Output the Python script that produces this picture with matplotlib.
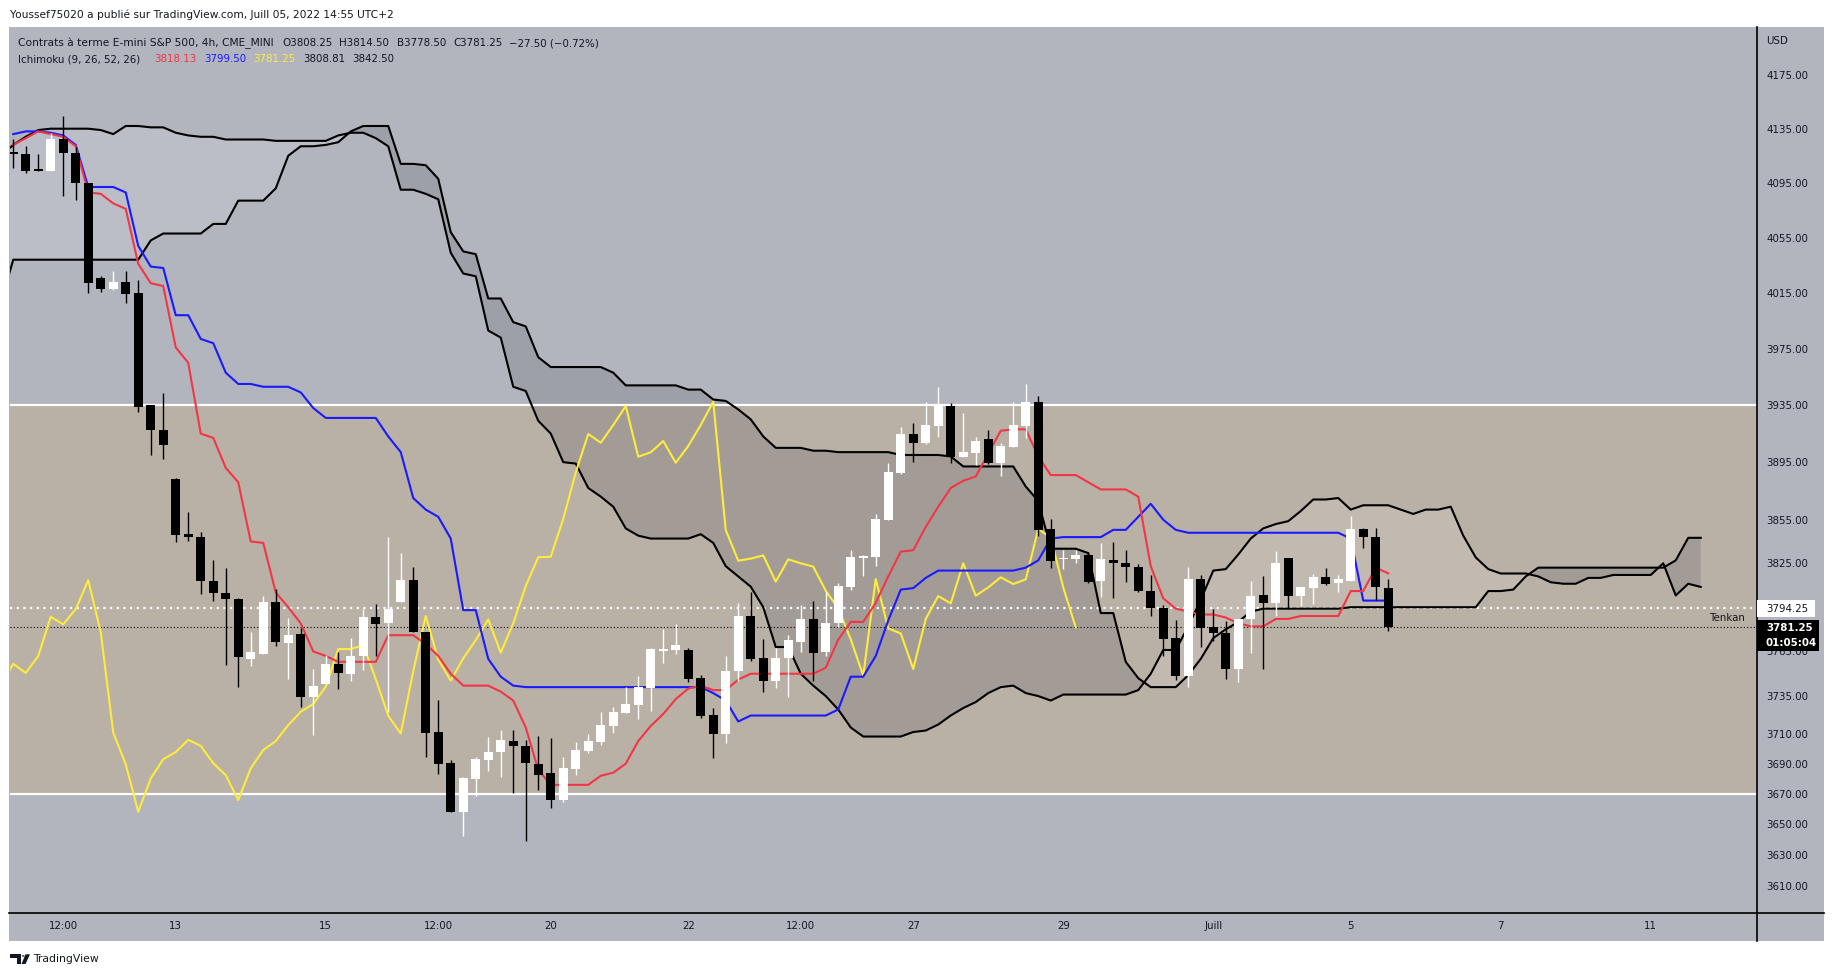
import numpy as np
import matplotlib.pyplot as plt
from matplotlib.patches import Rectangle, Polygon, Circle
from matplotlib.lines import Line2D
from matplotlib.ticker import FixedLocator, NullLocator

# ES1! 4h candles, bar 0 = 8 June 20:00 ... bar 110 = 5 July 12:00
OPEN = [
    4117, 4116, 4105, 4103.6, 4127.5, 4117.3, 4095.2, 4026, 4018, 4023,
    4015, 3935, 3917.4, 3883, 3845, 3843, 3813, 3805, 3800.4, 3760.2,
    3763.6, 3798.8, 3770.4, 3776.7, 3734.4, 3743.0, 3756.7, 3749.8, 3761.9, 3788.5,
    3784.3, 3798.2, 3813.4, 3778.1, 3711.3, 3690.3, 3658.3, 3679.6, 3692.6, 3697.7,
    3704.8, 3701.4, 3690.1, 3683.6, 3666.0, 3686.4, 3698.6, 3704.6, 3715.1, 3723.8,
    3729.0, 3740.1, 3765.4, 3765.9, 3765.9, 3746.9, 3722.3, 3709.6, 3751.8, 3789.0,
    3760.9, 3745.3, 3760.3, 3771.6, 3786.7, 3764.8, 3784.5, 3808.9, 3828.9, 3829.5,
    3854.8, 3887.6, 3914.7, 3908.6, 3920.3, 3934.4, 3898.8, 3901.7, 3911.1, 3894.6,
    3905.9, 3920.3, 3937.4, 3848.5, 3827.7, 3827.7, 3830.7, 3813.1, 3827.2, 3825.0,
    3822.7, 3806.2, 3794.2, 3773.9, 3748.7, 3814.2, 3781.3, 3777.2, 3753.2, 3786.8,
    3803.3, 3797.6, 3828.4, 3802.8, 3808.2, 3815.4, 3811.2, 3813.1, 3848.5, 3842.8,
    3808.25]
HIGH = [
    4127, 4122, 4116, 4132, 4144.5, 4121.7, 4095.2, 4027, 4031, 4031,
    4024, 3935, 3943.6, 3884, 3860, 3846.6, 3827, 3822, 3801, 3778.1,
    3802.7, 3807.5, 3787.8, 3780.8, 3753.3, 3762.6, 3764.3, 3774.0, 3793.7, 3797.5,
    3842.9, 3832.4, 3822.5, 3778.1, 3732.7, 3692.6, 3680.9, 3694.3, 3707.9, 3712.3,
    3712.3, 3705.5, 3708.2, 3706.8, 3694.6, 3704.6, 3709.4, 3724.5, 3727.9, 3741.3,
    3748.4, 3767.1, 3780.1, 3783.6, 3767.1, 3749.1, 3726.7, 3761.9, 3797.6, 3805.1,
    3773.2, 3767.1, 3776.1, 3796.4, 3799.2, 3805.1, 3811.3, 3834.1, 3830.5, 3858.9,
    3894.1, 3919.4, 3922.6, 3937.4, 3948.1, 3936.7, 3929.7, 3912.3, 3917.5, 3908.1,
    3937.4, 3949.9, 3941.5, 3855.2, 3834.1, 3834.1, 3833.0, 3839.1, 3839.8, 3834.1,
    3824.5, 3816.9, 3796.5, 3786.3, 3822.3, 3816.9, 3793.6, 3785.3, 3787.0, 3812.8,
    3816.2, 3833.6, 3828.4, 3808.5, 3817.6, 3821.6, 3816.9, 3857.5, 3849.0, 3849.0,
    3814.5]
LOW = [
    4106, 4102, 4104, 4103.6, 4085.6, 4082.4, 4015.2, 4016, 4017, 4008,
    3930.5, 3900, 3897, 3839.6, 3840.4, 3804, 3799, 3756, 3741, 3755.0,
    3763.6, 3768.8, 3746.4, 3727.6, 3708.9, 3743.0, 3739.5, 3745.4, 3752.3, 3761.9,
    3724.2, 3798.2, 3778.1, 3694.6, 3682.9, 3658.3, 3642.3, 3668.6, 3684.9, 3681.5,
    3670.8, 3639.3, 3672.6, 3661.0, 3664.8, 3682.4, 3697.1, 3702.2, 3710.5, 3723.8,
    3719.6, 3725.2, 3757.3, 3763.6, 3744.2, 3720.4, 3693.5, 3703.4, 3745.3, 3758.7,
    3737.9, 3740.6, 3734.6, 3764.8, 3745.3, 3761.9, 3781.8, 3807.0, 3816.3, 3823.0,
    3854.8, 3886.5, 3895.3, 3907.4, 3912.3, 3894.1, 3898.4, 3893.0, 3893.7, 3885.6,
    3905.9, 3911.6, 3843.8, 3822.1, 3821.4, 3824.9, 3811.7, 3801.7, 3801.5, 3812.4,
    3805.5, 3789.2, 3762.2, 3745.8, 3741.3, 3768.2, 3772.3, 3746.5, 3744.7, 3763.7,
    3753.2, 3789.2, 3793.6, 3796.1, 3797.2, 3810.1, 3805.5, 3813.1, 3835.7, 3799.9,
    3778.5]
CLOSE = [
    4116.5, 4104, 4104, 4127.5, 4117.3, 4095.2, 4022.3, 4018, 4023, 4014.4,
    3934, 3917.4, 3907, 3844.5, 3843, 3813, 3805, 3800.4, 3761, 3764.3,
    3798.8, 3771.5, 3776.4, 3734.4, 3742.0, 3756.7, 3750.5, 3761.9, 3788.5, 3783.3,
    3793.7, 3813.4, 3778.1, 3710.6, 3689.6, 3658.3, 3680.2, 3692.9, 3697.7, 3705.8,
    3701.8, 3690.3, 3682.4, 3666.0, 3686.9, 3699.0, 3705.0, 3715.6, 3724.5, 3729.7,
    3741.3, 3766.6, 3766.6, 3769.3, 3746.4, 3721.8, 3710.0, 3751.8, 3789.0, 3759.6,
    3745.3, 3760.3, 3772.7, 3786.7, 3764.1, 3784.0, 3809.4, 3829.1, 3829.5, 3855.5,
    3887.9, 3914.7, 3908.6, 3921.0, 3934.4, 3898.8, 3901.9, 3909.8, 3894.6, 3906.3,
    3921.0, 3937.4, 3847.9, 3826.8, 3828.2, 3830.4, 3812.4, 3827.7, 3825.0, 3822.7,
    3806.2, 3794.2, 3773.2, 3748.7, 3814.2, 3780.6, 3777.2, 3753.2, 3787.0, 3802.6,
    3797.6, 3825.0, 3802.8, 3808.5, 3815.4, 3810.8, 3814.0, 3848.5, 3842.8, 3808.5,
    3781.25]

# Ichimoku lines
TENKAN = [
    4123, 4128, 4133, 4131, 4129, 4122, 4088, 4087, 4080, 4076,
    4036, 4022, 4020, 3976, 3965, 3915, 3912, 3891, 3881, 3840,
    3839, 3805, 3795, 3784, 3765, 3762, 3758, 3758, 3758, 3758,
    3776, 3776, 3776, 3770, 3762, 3750, 3742, 3742, 3742, 3738,
    3732, 3714, 3686, 3676, 3676, 3676, 3676, 3682, 3684, 3690,
    3705, 3715, 3723, 3733, 3740, 3742, 3739, 3739, 3746, 3750,
    3750, 3750, 3750, 3750, 3750, 3754, 3773, 3785, 3785, 3798,
    3816, 3833, 3834, 3850, 3864, 3877, 3882, 3885, 3901, 3917,
    3918, 3918, 3899, 3886, 3886, 3886, 3881, 3876, 3876, 3876,
    3871, 3823, 3801, 3794, 3792, 3790, 3790, 3788, 3784, 3782,
    3782, 3787, 3787, 3789, 3789, 3789, 3789, 3806, 3806, 3822,
    3818.13]
KIJUN = [
    4131, 4133, 4133, 4132, 4130, 4123, 4092, 4092, 4092, 4088,
    4049, 4034, 4033, 3999, 3999, 3982, 3979, 3958, 3950, 3950,
    3948, 3948, 3948, 3944, 3933, 3926, 3926, 3926, 3926, 3926,
    3913, 3902, 3870, 3862, 3857, 3842, 3793, 3793, 3760, 3748,
    3742, 3741, 3741, 3741, 3741, 3741, 3741, 3741, 3741, 3741,
    3741, 3741, 3741, 3741, 3741, 3741, 3737, 3732, 3718, 3722,
    3722, 3722, 3722, 3722, 3722, 3722, 3726, 3748, 3748, 3762,
    3786, 3807, 3808, 3815, 3820, 3820, 3820, 3820, 3820, 3820,
    3820, 3822, 3827, 3842, 3843, 3843, 3843, 3843, 3848, 3848,
    3857, 3866, 3855, 3848, 3846, 3846, 3846, 3846, 3846, 3846,
    3846, 3846, 3846, 3846, 3846, 3846, 3846, 3842, 3799.5, 3799.5,
    3799.5]
# leading spans, bar -1 ... bar 135
SPAN_A = [
    4115,
    4123, 4129, 4134, 4135, 4135, 4135, 4135, 4134, 4131, 4137,
    4137, 4136, 4136, 4132, 4130, 4129, 4129, 4127, 4127, 4127,
    4127, 4126, 4126, 4126, 4126, 4126, 4130, 4132, 4132, 4128,
    4122, 4090, 4090, 4087, 4083, 4044, 4029, 4027, 3988, 3983,
    3948, 3945, 3924, 3915, 3895, 3894, 3877, 3871, 3864, 3849,
    3844, 3842, 3842, 3842, 3842, 3845, 3839, 3823, 3816, 3809,
    3795, 3768, 3768, 3750, 3742, 3735, 3726, 3714, 3708, 3708,
    3708, 3708, 3711, 3712, 3716, 3722, 3727, 3731, 3737, 3741,
    3742, 3737, 3735, 3732, 3736, 3736, 3736, 3736, 3736, 3736,
    3739, 3750, 3766, 3766, 3782, 3800, 3820, 3821, 3831, 3842,
    3849, 3852, 3854, 3861, 3869, 3869, 3870, 3862, 3865, 3865,
    3865, 3862, 3859, 3862, 3862, 3864, 3844, 3829, 3821, 3818,
    3818, 3818, 3816, 3812, 3811, 3811, 3815, 3815, 3817, 3817,
    3817, 3817, 3825, 3803, 3811, 3808.81]
SPAN_B = [
    4008,
    4039, 4039, 4039, 4039, 4039, 4039, 4039, 4039, 4039, 4039,
    4039, 4053, 4058, 4058, 4058, 4058, 4065, 4065, 4082, 4082,
    4082, 4091, 4115, 4122, 4122, 4123, 4125, 4133, 4137, 4137,
    4137, 4109, 4109, 4108, 4098, 4059, 4045, 4043, 4011, 4011,
    3994, 3991, 3969, 3962, 3962, 3962, 3962, 3962, 3958, 3949,
    3949, 3949, 3949, 3949, 3946, 3946, 3939, 3938, 3932, 3925,
    3913, 3905, 3905, 3905, 3903, 3903, 3902, 3902, 3902, 3902,
    3902, 3900, 3900, 3900, 3900, 3899, 3892, 3892, 3892, 3892,
    3892, 3878, 3868, 3835, 3835, 3835, 3832, 3791, 3791, 3758,
    3747, 3741, 3741, 3741, 3749, 3760, 3774, 3780, 3785, 3792,
    3794, 3794, 3794, 3794, 3794, 3794, 3794, 3795, 3795, 3795,
    3795, 3795, 3795, 3795, 3795, 3795, 3795, 3795, 3806, 3806,
    3807, 3816, 3822, 3822, 3822, 3822, 3822, 3822, 3822, 3822,
    3822, 3822, 3822, 3827, 3842.5, 3842.5]

PRICE_TICKS = [4175, 4135, 4095, 4055, 4015, 3975, 3935, 3895, 3855, 3825,
               3765, 3735, 3710, 3690, 3670, 3650, 3630, 3610]
TIME_POS = [4, 13, 25, 34, 43, 54, 63, 72, 84, 96, 107, 119, 131]
TIME_LABELS = ['12:00', '13', '15', '12:00', '20', '22', '12:00', '27', '29',
               'Juill', '5', '7', '11']
ZONE = (3670, 3935)
HLINE = 3794.25
LAST = 3781.25

GRAY = '#b2b5be'
TAN = '#b9b0a6'
TXT = '#131722'
RED = '#f23645'
BLUE = '#1a1aff'
YELLOW = '#ffeb3b'

W, H = 1834, 977
fig = plt.figure(figsize=(W / 100, H / 100), dpi=100)
fig.patch.set_facecolor('white')


def fx(x):
    return x / W


def fy(y):
    return 1 - y / H


fig.patches.append(Rectangle((fx(9), fy(941)), fx(1824) - fx(9), fy(27) - fy(941),
                             transform=fig.transFigure, facecolor=GRAY,
                             edgecolor='none', zorder=-5))

ax = fig.add_axes([fx(10), fy(913), fx(1757) - fx(10), fy(27) - fy(913)])
ax.set_zorder(1)
ax.set_facecolor(GRAY)
for s in ax.spines.values():
    s.set_visible(False)

ax.set_yscale('log')
ax.set_ylim(3592.5, 4211.1)
ax.set_xlim(-0.26, 139.5)

# rectangle drawing
ax.axhspan(ZONE[0], ZONE[1], color=TAN, lw=0, zorder=1)
for v in ZONE:
    ax.axhline(v, color='white', lw=1.6, zorder=2.6)

# cloud
sx = np.arange(-1, len(SPAN_A) - 1)
a = np.array(SPAN_A, dtype=float)
b = np.array(SPAN_B, dtype=float)
ax.fill_between(sx, a, b, where=a >= b, interpolate=True,
                facecolor=(1, 1, 1, 0.13), lw=0, zorder=2)
ax.fill_between(sx, a, b, where=a < b, interpolate=True,
                facecolor=(0.31, 0.31, 0.35, 0.2), lw=0, zorder=2)
ax.plot(sx, a, color='black', lw=1.5, zorder=3)
ax.plot(sx, b, color='black', lw=1.5, zorder=3)

idx = np.arange(len(CLOSE))
ax.plot(idx - 25, CLOSE, color=YELLOW, lw=1.5, zorder=3)
ax.plot(idx, KIJUN, color=BLUE, lw=1.5, zorder=3.1)
ax.plot(idx, TENKAN, color=RED, lw=1.5, zorder=3.2)

ax.axhline(HLINE, color='white', lw=1.6, ls=(0, (1, 2)), zorder=2.8)
ax.axhline(LAST, color='black', lw=0.8, ls=(0, (1, 2)), zorder=2.8)

# candles
o = np.array(OPEN)
c = np.array(CLOSE)
up = c >= o
cols = np.where(up, 'white', 'black')
ax.vlines(idx, LOW, HIGH, colors=cols, lw=1.0, zorder=4)
body_lo = np.minimum(o, c)
body_h = np.maximum(np.abs(c - o), 1.0)
ax.bar(idx, body_h, bottom=body_lo, width=0.7, color=cols, lw=0, zorder=5)

# axes ticks
ax.yaxis.tick_right()
ax.yaxis.set_major_locator(FixedLocator(PRICE_TICKS))
ax.yaxis.set_minor_locator(NullLocator())
ax.set_yticklabels(['%.2f' % v for v in PRICE_TICKS])
ax.tick_params(axis='y', length=0, pad=6.5, labelsize=7.4, labelcolor=TXT)
ax.set_xticks(TIME_POS)
ax.set_xticklabels(TIME_LABELS)
ax.tick_params(axis='x', length=0, pad=6, labelsize=7.4, labelcolor=TXT)

# separators
fig.add_artist(Line2D([fx(1757), fx(1757)], [fy(27), fy(941)], color='black', lw=1.2, zorder=4))
fig.add_artist(Line2D([fx(9), fx(1824)], [fy(913), fy(913)], color='black', lw=1.2, zorder=4))

# price labels on scale
fig.patches.append(Rectangle((fx(1757), fy(617)), fx(1815) - fx(1757), fy(600) - fy(617),
                             transform=fig.transFigure, facecolor='white',
                             edgecolor='none', zorder=5))
fig.text(fx(1766), fy(608.5), '%.2f' % HLINE, fontsize=7.4, color=TXT,
         va='center', ha='left', zorder=6)
fig.patches.append(Rectangle((fx(1757), fy(651)), fx(1819) - fx(1757), fy(620) - fy(651),
                             transform=fig.transFigure, facecolor='black',
                             edgecolor='none', zorder=5))
fig.text(fx(1766), fy(628), '%.2f' % LAST, fontsize=7.4, color='white',
         fontweight='bold', va='center', ha='left', zorder=6)
fig.text(fx(1766), fy(643), '01:05:04', fontsize=7.4, color='white',
         fontweight='bold', va='center', ha='left', zorder=6)
fig.text(fx(1766), fy(41), 'USD', fontsize=7.4, color=TXT, va='center', ha='left', zorder=6)
fig.text(fx(1745), fy(618), 'Tenkan', fontsize=7.4, color=TXT, va='center', ha='right', zorder=6)

# header and legend
fig.text(fx(10.5), fy(15), 'Youssef75020 a publié sur TradingView.com, Juill 05, 2022 14:55 UTC+2',
         fontsize=7.65, color=TXT, va='center', ha='left')
row1 = [(18.5, 'Contrats à terme E-mini S&P 500, 4h, CME_MINI'), (282, 'O3808.25'),
        (339, 'H3814.50'), (397, 'B3778.50'), (453, 'C3781.25'), (509, '−27.50 (−0.72%)')]
for x, t in row1:
    fig.text(fx(x), fy(43), t, fontsize=7.7 if x < 100 else 7.4, color=TXT,
             va='center', ha='left', zorder=6)
row2 = [(18.5, 'Ichimoku (9, 26, 52, 26)', TXT), (154, '3818.13', RED),
        (204, '3799.50', BLUE), (253, '3781.25', YELLOW),
        (303, '3808.81', TXT), (352, '3842.50', TXT)]
for x, t, col in row2:
    fig.text(fx(x), fy(59), t, fontsize=7.4, color=col, va='center', ha='left', zorder=6)

# TradingView mark + name at the bottom
logo = [Rectangle((fx(10), fy(957.5)), fx(20.5) - fx(10), fy(954.3) - fy(957.5)),
        Rectangle((fx(16.5), fy(964)), fx(20.5) - fx(16.5), fy(954.3) - fy(964)),
        Circle((fx(23.2), fy(956)), 1.3 / W),
        Polygon([(fx(25.5), fy(954.3)), (fx(30), fy(954.3)),
                 (fx(25.5), fy(964)), (fx(21.5), fy(964))], closed=True)]
for p in logo:
    p.set_transform(fig.transFigure)
    p.set_facecolor(TXT)
    p.set_edgecolor('none')
    fig.patches.append(p)
fig.text(fx(33), fy(959), 'TradingView', fontsize=7.8, color=TXT, va='center', ha='left')

fig.savefig('out.png', dpi=100, facecolor='white')
